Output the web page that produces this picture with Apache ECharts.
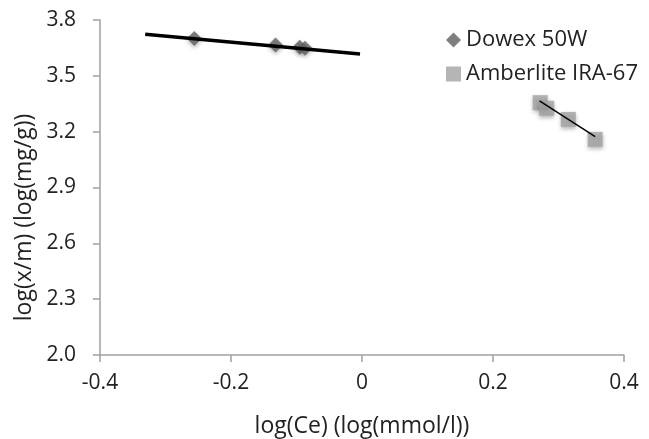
<!DOCTYPE html>
<html>
<head>
<meta charset="utf-8">
<script src="https://cdn.jsdelivr.net/npm/echarts@6/dist/echarts.min.js"></script>
<style>html,body{margin:0;padding:0;background:#fff}#c{width:649px;height:439px}</style>
</head>
<body>
<div id="c"></div>
<script>
const dowexX = [-0.256, -0.132, -0.095, -0.087];
const dowexY = [3.700, 3.666, 3.653, 3.648];
const dowexTrendX = [-0.331, -0.003];
const dowexTrendY = [3.723, 3.617];
const amberX = [0.272, 0.282, 0.315, 0.356];
const amberY = [3.356, 3.326, 3.266, 3.159];
const amberTrendX = [0.271, 0.356];
const amberTrendY = [3.366, 3.173];
const seriesNames = ['Dowex 50W', 'Amberlite IRA-67'];
const xAxisName = 'log(Ce) (log(mmol/l))';
const yAxisName = 'log(x/m) (log(mg/g))';

const pairs = (xs, ys) => xs.map((x, i) => [x, ys[i]]);
const font = 'Open Sans';
const fs = 21;
const chart = echarts.init(document.getElementById('c'), null, {renderer: 'canvas'});
chart.setOption({
  animation: false,
  textStyle: {fontFamily: font},
  grid: {left: 100, right: 25, top: 20, bottom: 84, containLabel: false, outerBoundsMode: 'none'},
  legend: {
    orient: 'vertical', left: 441, top: 24, itemGap: 12, itemWidth: 15, itemHeight: 15,
    data: [
      {name: seriesNames[0], icon: 'diamond'},
      {name: seriesNames[1], icon: 'rect'}
    ],
    textStyle: {fontFamily: font, fontSize: 22, color: '#222'}
  },
  xAxis: {
    type: 'value', min: -0.4, max: 0.4, interval: 0.2,
    name: xAxisName, nameLocation: 'middle', nameGap: 60,
    nameTextStyle: {fontFamily: font, fontSize: 23, color: '#222'},
    axisLine: {onZero: false, lineStyle: {color: '#a0a0a0', width: 1.5}},
    axisTick: {show: true, length: 7, lineStyle: {color: '#a0a0a0', width: 1.5}},
    axisLabel: {fontSize: fs, color: '#222', margin: 18, formatter: v => (Math.abs(v) < 1e-9 ? '0' : String(Math.round(v * 10) / 10))},
    splitLine: {show: false}
  },
  yAxis: {
    type: 'value', min: 2.0, max: 3.8, interval: 0.3,
    name: yAxisName, nameLocation: 'middle', nameGap: 62,
    nameTextStyle: {fontFamily: font, fontSize: 23, color: '#222', padding: [0, 60, 0, 0]},
    axisLine: {show: true, onZero: false, lineStyle: {color: '#a0a0a0', width: 1.5}},
    axisTick: {show: true, length: 7, lineStyle: {color: '#a0a0a0', width: 1.5}},
    axisLabel: {fontSize: fs, color: '#222', margin: 24, formatter: v => v.toFixed(1)},
    splitLine: {show: false}
  },
  series: [
    {
      name: seriesNames[0], type: 'scatter', symbol: 'diamond', symbolSize: 15,
      data: pairs(dowexX, dowexY),
      itemStyle: {color: '#5f5f5f', shadowBlur: 4, shadowColor: 'rgba(0,0,0,0.35)', shadowOffsetY: 2}
    },
    {
      name: seriesNames[1], type: 'scatter', symbol: 'rect', symbolSize: 15,
      data: pairs(amberX, amberY),
      itemStyle: {color: '#a3a3a3', shadowBlur: 4, shadowColor: 'rgba(0,0,0,0.35)', shadowOffsetY: 2}
    },
    {
      name: 'dowexTrend', type: 'line', showSymbol: false, symbol: 'none',
      data: pairs(dowexTrendX, dowexTrendY),
      lineStyle: {color: '#000', width: 3.5}, z: 3
    },
    {
      name: 'amberTrend', type: 'line', showSymbol: false, symbol: 'none',
      data: pairs(amberTrendX, amberTrendY),
      lineStyle: {color: '#000', width: 1.5}, z: 3
    }
  ]
});
</script>
</body>
</html>
